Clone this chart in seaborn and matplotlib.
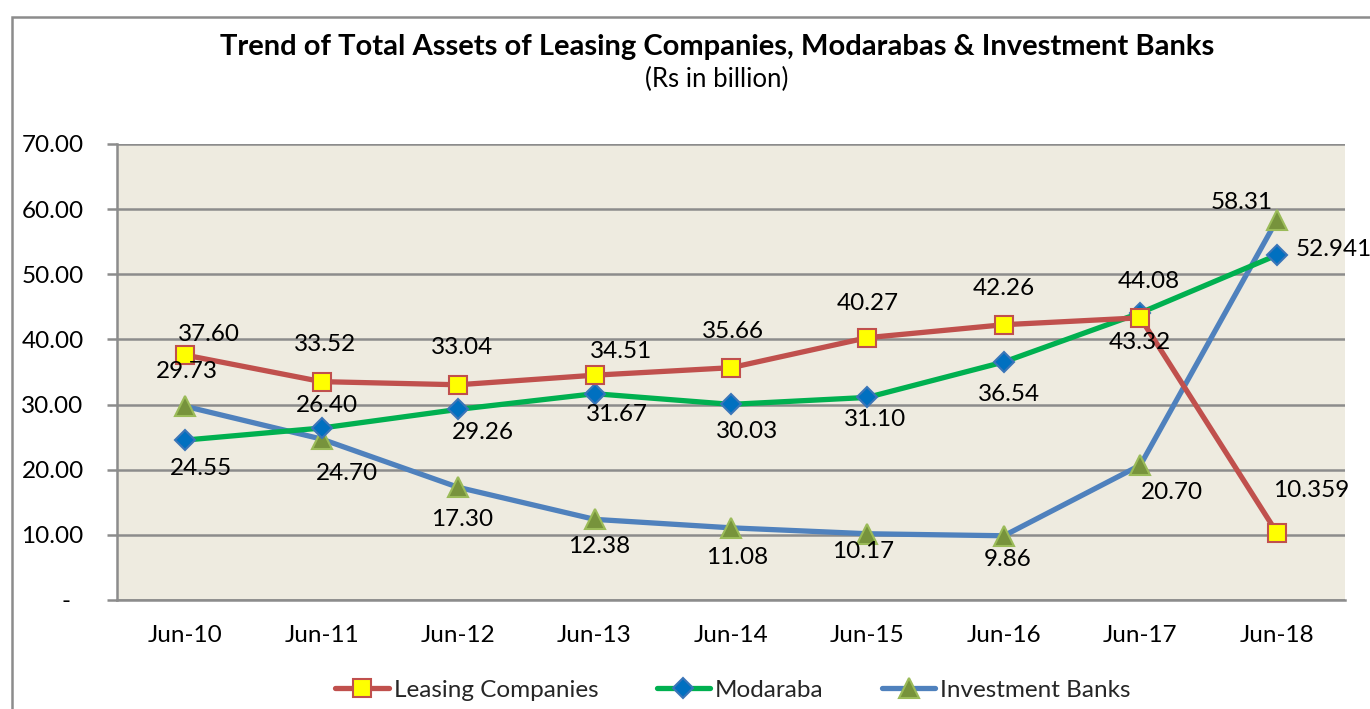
import matplotlib
matplotlib.use("Agg")
import matplotlib.pyplot as plt
import seaborn as sns
import pandas as pd
from matplotlib.patches import Rectangle
from matplotlib.lines import Line2D

# ---- data ----
categories = ["Jun-10", "Jun-11", "Jun-12", "Jun-13", "Jun-14", "Jun-15", "Jun-16", "Jun-17", "Jun-18"]
leasing = [37.60, 33.52, 33.04, 34.51, 35.66, 40.27, 42.26, 43.32, 10.359]
modaraba = [24.55, 26.40, 29.26, 31.67, 30.03, 31.10, 36.54, 44.08, 52.941]
investment = [29.73, 24.70, 17.30, 12.38, 11.08, 10.17, 9.86, 20.70, 58.31]
series_names = ["Leasing Companies", "Modaraba", "Investment Banks"]
y_ticks = [0, 10, 20, 30, 40, 50, 60, 70]
y_tick_labels = ["-  ", "10.00", "20.00", "30.00", "40.00", "50.00", "60.00", "70.00"]
title = "Trend of Total Assets of Leasing Companies, Modarabas & Investment Banks"
subtitle = "(Rs in billion)"

# ---- label offsets (pixels) ----
off_leasing = [(24, -21), (3, -37), (4, -37), (27, -24), (2, -36), (0, -34), (0, -36), (0, 25), (34, -42)]
off_modaraba = [(16, 28), (5, -23), (25, 23), (22, 21), (16, 27), (8, 22), (5, 33), (8, -31), (57, -6)]
off_invest = [(2, -35), (25, 34), (4, 32), (5, 27), (6, 30), (-4, 18), (4, 24), (32, 27), (-35, -18)]

sns.set_theme(style="white")
plt.rcParams["font.family"] = ["Lato", "DejaVu Sans"]

df = pd.DataFrame({"cat": categories * 3,
                   "value": leasing + modaraba + investment,
                   "series": [series_names[0]] * 9 + [series_names[1]] * 9 + [series_names[2]] * 9})

fig = plt.figure(figsize=(13.7, 7.09), dpi=100)
W, H = 1370, 709
ax = fig.add_axes([117 / W, (H - 600) / H, (1345 - 117) / W, (600 - 144) / H])
ax.set_facecolor("#EEEBE0")

styles = {
    series_names[0]: dict(color="#C0504D", marker="s", mfc="#FFFF00", mec="#C0504D", ms=13),
    series_names[1]: dict(color="#00B050", marker="D", mfc="#0070C0", mec="#3A75B8", ms=10.5),
    series_names[2]: dict(color="#4F81BD", marker="^", mfc="#77933C", mec="#9BBB59", ms=15),
}

for name in [series_names[2], series_names[1], series_names[0]]:
    st = styles[name]
    sub = df[df["series"] == name]
    sns.lineplot(data=sub, x="cat", y="value", ax=ax, color=st["color"], linewidth=3.8,
                 marker=st["marker"], markersize=st["ms"], markerfacecolor=st["mfc"],
                 markeredgecolor=st["mec"], markeredgewidth=1.5, sort=False, legend=False,
                 zorder=3)

ax.set_xlim(-0.5, len(categories) - 0.5)
ax.set_ylim(0, 70)
ax.set_yticks(y_ticks)
ax.set_yticklabels(y_tick_labels)
ax.grid(axis="y", color="#8C8C8C", linewidth=1.8, zorder=0)
ax.grid(axis="x", visible=False)
ax.set_axisbelow(True)
ax.set_xlabel("")
ax.set_ylabel("")
ax.set_xticks(range(len(categories)))
ax.set_xticklabels(categories)
ax.set_xticks([i - 0.5 for i in range(len(categories) + 1)], minor=True)
ax.tick_params(axis="x", which="major", length=0, pad=18, labelsize=17.5, labelcolor="black")
ax.tick_params(axis="x", which="minor", length=8, width=1.8, color="#8C8C8C", direction="out")
ax.tick_params(axis="y", which="major", length=7, width=1.8, color="#8C8C8C", pad=17,
               labelsize=17.5, labelcolor="black", left=True)
for s in ["top", "right"]:
    ax.spines[s].set_visible(False)
for s in ["left", "bottom"]:
    ax.spines[s].set_color("#8C8C8C")
    ax.spines[s].set_linewidth(1.8)

def fmt(v):
    return f"{v:.3f}" if round(v, 2) != v else f"{v:.2f}"

for vals, offs in [(leasing, off_leasing), (modaraba, off_modaraba), (investment, off_invest)]:
    for i, (v, (dx, dy)) in enumerate(zip(vals, offs)):
        ax.annotate(fmt(v), (i, v), xytext=(dx, -dy), textcoords="offset pixels",
                    ha="center", va="center", fontsize=17.5, color="black", zorder=5,
                    annotation_clip=False)

fig.text(717 / W, 1 - 47 / H, title, ha="center", va="center", fontsize=21,
         fontweight="bold", color="black")
fig.text(717 / W, 1 - 79 / H, subtitle, ha="center", va="center", fontsize=18.5, color="black")

# outer chart frame
fig.patches.append(Rectangle((12 / W, -0.1), 1.2, 1 - 17 / H + 0.1, transform=fig.transFigure,
                             fill=False, edgecolor="#8C8C8C", linewidth=1.8))

handles = []
for name in series_names:
    st = styles[name]
    handles.append(Line2D([0], [0], color=st["color"], linewidth=3.8, marker=st["marker"],
                          markersize=st["ms"] * 0.95, markerfacecolor=st["mfc"],
                          markeredgecolor=st["mec"], markeredgewidth=1.5))
fig.legend(handles, series_names, loc="center", bbox_to_anchor=(733 / W, 19 / H), ncol=3,
           frameon=False, fontsize=17.5, handlelength=2.2, handletextpad=0.2, columnspacing=2.4)

fig.savefig("out.png", dpi=100)
